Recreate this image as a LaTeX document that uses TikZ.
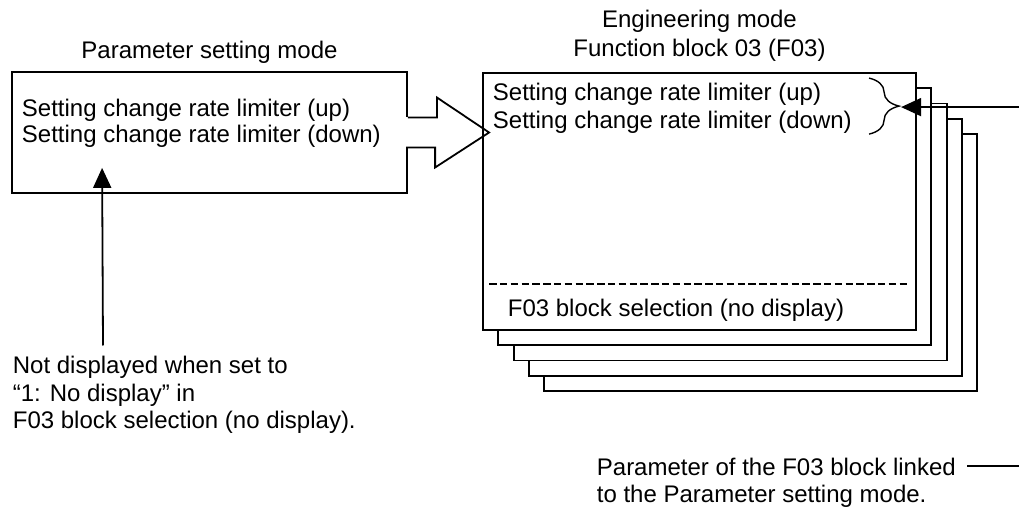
\documentclass[tikz,border=0pt]{standalone}
\usepackage{fontspec}
\setmainfont{Liberation Sans}
\usetikzlibrary{arrows.meta,positioning,calc,decorations.pathreplacing}

\begin{document}
\begin{tikzpicture}[
      x=0.5pt, y=-0.5pt,
      line width=0.9pt,
      txt/.style={inner sep=0pt, align=left,
          font=\fontsize{12}{13.75}\selectfont},
      mode/.style={txt, align=center},
      frame/.style={draw, fill=white, inner sep=0pt},
      pframe/.style={frame, minimum width=197.5pt, minimum height=60.5pt},
      fframe/.style={frame, minimum width=216.5pt, minimum height=128.5pt},
      selline/.style={dash pattern=on 3.7pt off 1.7pt},
      tip/.style={-{Triangle[length=10pt,width=9pt]}},
      fbrace/.style={decorate, line width=0.7pt,
          decoration={brace, amplitude=15pt}}
    ]
    \useasboundingbox (0,0) rectangle (1019,513);

    % parameter setting mode
    \node[pframe] (pbox) at (209.5,132.5) {};
    \node[mode, above=3.5pt of pbox] (ptitle) {Parameter setting mode};
    \node[txt, anchor=north west] (ptext) at (21,98.5)
        {Setting change rate limiter (up)\\[-1pt]Setting change rate limiter (down)};

    % engineering mode, F03 (stack of blocks)
    \foreach \i in {4,3,2,1}
        \node[fframe] (fback\i) at ({699.5+15.3*\i},{201.5+15.3*\i}) {};
    \node[fframe] (fblock) at (699.5,201.5) {};
    \node[mode, above=5pt of fblock] (ftitle)
        {Engineering mode\\[0.75pt]Function block 03 (F03)};
    \node[txt, anchor=north west] (ftext) at (492,82.5)
        {Setting change rate limiter (up)\\Setting change rate limiter (down)};
    \draw[selline] ($(fblock.west)+(7,82.5)$) -- ($(fblock.east)+(-8,82.5)$);
    \node[txt, anchor=base west] (fsel) at (507,317)
        {F03 block selection (no display)};

    % hollow arrow between the two modes
    \fill[white] ($(pbox.east)+(-2,-15)$) rectangle ($(pbox.east)+(2,15)$);
    \draw ($(pbox.east)+(0,-15)$) -- ++(29,0) -- ++(0,-20)
        -- ($(pbox.east -| fblock.west)+(7,0)$)
        -- ++(-54,35) -- ++(0,-20) -- ++(-29,0);

    % brace and link
    \draw[fbrace] ($(fblock.north west)+(387,6)$) -- ($(fblock.north west)+(387,62)$);
    \coordinate (brtip) at ($(fblock.north west)+(419,35)$);

    % notes
    \node[txt, anchor=north west] (dnote) at (12,355.5)
        {Not displayed when set to\\“1: No display” in\\F03 block selection (no display).};
    \draw[tip] ($(dnote.north west)+(91,-10)$) -- ($(pbox.south west)+(91,-26)$);

    \node[txt, anchor=north west] (lnote) at (596,457.5)
        {Parameter of the F03 block linked\\[-0.5pt]to the Parameter setting mode.};
    \draw[tip] ($(lnote.north west)+(371,8.5)$) -- ($(lnote.north west)+(425,8.5)$)
        |- (brtip);
  \end{tikzpicture}
\end{document}
